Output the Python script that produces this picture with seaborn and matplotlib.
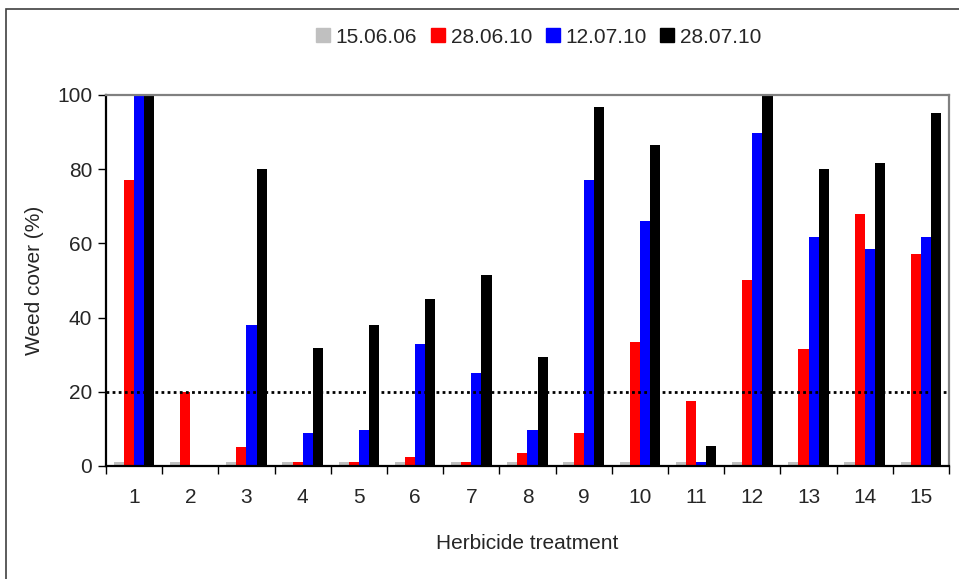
import matplotlib
matplotlib.use("Agg")
import matplotlib.pyplot as plt
import seaborn as sns
import pandas as pd
import numpy as np
from matplotlib.patches import Rectangle
from matplotlib.lines import Line2D

treatments = [str(i) for i in range(1, 16)]
dates = ["15.06.06", "28.06.10", "12.07.10", "28.07.10"]
colors = ["#c0c0c0", "#ff0000", "#0000ff", "#000000"]

v_150606 = [1.0, 1.0, 1.0, 1.0, 1.0, 1.0, 1.0, 1.0, 1.0, 1.0, 1.0, 1.0, 1.0, 1.0, 1.0]
v_280610 = [77, 20, 5, 1.2, 1.2, 2.3, 1.2, 3.5, 8.8, 33.3, 17.5, 50, 31.5, 68, 57]
v_120710 = [100, 0, 38, 8.8, 9.8, 32.8, 25, 9.8, 77, 66, 1.2, 89.7, 61.8, 58.5, 61.8]
v_280710 = [100, 0, 80, 31.7, 38, 45, 51.5, 29.5, 96.7, 86.5, 5.5, 100, 80, 81.7, 95.2]
threshold = 20

rows = []
for d, vals in zip(dates, [v_150606, v_280610, v_120710, v_280710]):
    for t, v in zip(treatments, vals):
        rows.append({"Treatment": t, "Date": d, "Cover": v})
df = pd.DataFrame(rows)

sns.set_style("white")
plt.rcParams["font.family"] = ["Liberation Sans", "DejaVu Sans"]

fig = plt.figure(figsize=(9.59, 5.79), dpi=100)
ax = fig.add_axes([0.1105, 0.1952, 0.8791, 0.6408])

sns.barplot(data=df, x="Treatment", y="Cover", hue="Date", order=treatments,
            hue_order=dates, palette=colors, width=0.72, saturation=1,
            errorbar=None, ax=ax, legend=False, linewidth=0)

ax.axhline(threshold, color="black", linestyle=(0, (1, 1.2)), linewidth=2, zorder=5)

ax.set_xlim(-0.5, 14.5)
ax.set_ylim(0, 100)
ax.set_yticks([0, 20, 40, 60, 80, 100])
ax.tick_params(axis="y", which="major", direction="out", length=6, width=1,
               color="black", labelsize=15, left=True, pad=4)
ax.tick_params(axis="x", which="major", length=0, labelsize=15, pad=16)
ax.set_xticks(np.arange(-0.5, 15, 1.0), minor=True)
ax.tick_params(axis="x", which="minor", direction="out", length=6, width=1,
               color="black", bottom=True)
ax.set_xlabel("Herbicide treatment", fontsize=15, labelpad=19)
ax.set_ylabel("Weed cover (%)", fontsize=15, labelpad=9)

for side in ["left", "bottom"]:
    ax.spines[side].set_color("black")
    ax.spines[side].set_linewidth(1.6)
for side in ["top", "right"]:
    ax.spines[side].set_color("#808080")
    ax.spines[side].set_linewidth(1.6)
    ax.spines[side].set_visible(True)

handles = [Line2D([0], [0], marker="s", linestyle="none", markersize=10,
                  markerfacecolor=c, markeredgecolor=c) for c in colors]
fig.legend(handles, dates, loc="center", bbox_to_anchor=(0.56, 0.936), ncol=4,
           frameon=False, fontsize=15, handletextpad=0.1, columnspacing=0.5,
           handlelength=1.0)

fig.patches.append(Rectangle((6 / 959, -0.05), 1.2, 1.05 - 9 / 579,
                             transform=fig.transFigure, fill=False,
                             edgecolor="#404040", linewidth=1.2))

fig.savefig("out.png", dpi=100)
